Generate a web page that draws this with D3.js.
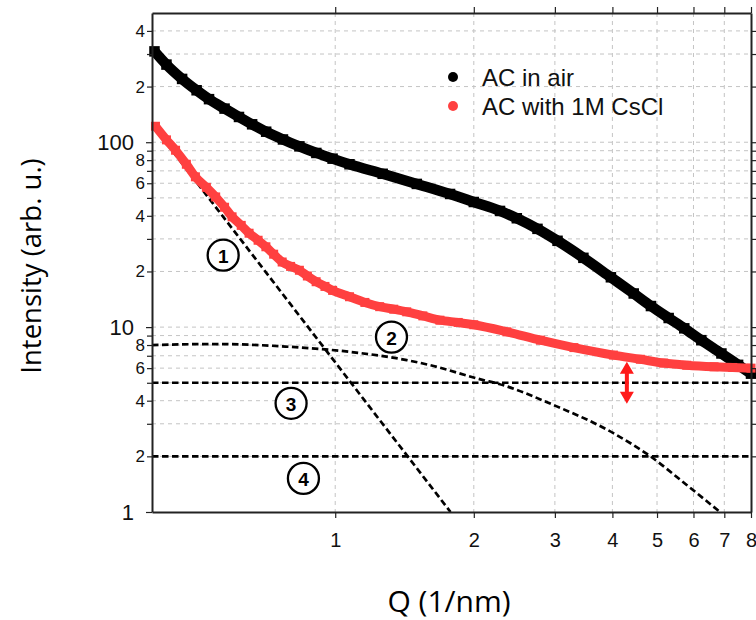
<!DOCTYPE html>
<html><head><meta charset="utf-8">
<script src="https://cdn.jsdelivr.net/npm/d3@7"></script>
<style>body{margin:0;background:#fff}svg{display:block}</style>
</head><body><svg id="c" width="756" height="620"></svg>
<script>
// ---- data ----
const airQ = [0.405,0.43,0.465,0.50,0.532,0.575,0.618,0.66,0.708,0.77,0.836,0.91,0.987,1.074,1.268,1.504,1.776,2.0,2.28,2.48,2.75,3.04,3.46,3.97,4.45,4.85,5.3,5.73,6.24,6.9,7.5,8.0];
const airI = [310,263,220,191,171,152,137,125,114,103.5,95,87.5,81.5,76,67.5,59.5,52.5,47.5,42.5,38.8,34,29.3,23.7,18.6,15.2,13.0,11.2,9.85,8.5,7.2,6.25,5.6];
const csclQ = [0.407,0.43,0.45,0.475,0.497,0.525,0.55,0.575,0.597,0.625,0.65,0.68,0.707,0.735,0.767,0.80,0.836,0.87,0.909,0.95,0.987,1.074,1.16,1.249,1.34,1.43,1.55,1.688,1.85,2.0,2.36,2.79,3.3,4.02,4.6,5.17,5.8,6.65,7.3,8.0];
const csclI = [122,103,90.5,76,65,57,50.6,44.5,39.5,35.5,32.2,29.5,27.2,24.8,22.5,21.3,20.3,18.9,17.6,16.6,15.8,14.6,13.6,12.9,12.5,12.1,11.5,10.9,10.6,10.3,9.43,8.5,7.75,7.06,6.7,6.39,6.22,6.10,6.05,6.0];
const model1Q = [0.405,1.78];
const model1I = [120,1];
const model2Q = [0.4,0.55,0.78,1.075,1.43,1.606,2.096,2.245,2.98,4.02,4.85,5.8,6.85];
const model2I = [8.0,8.1,7.85,7.35,6.63,6.23,5.17,4.96,3.79,2.67,1.99,1.4,1.0];
const model3Q = [0.4,8]; const model3I = [5,5];
const model4Q = [0.4,8]; const model4I = [2,2];
const seriesNames = ["AC in air","AC with 1M CsCl"];
const seriesColors = ["#000000","#ff4040"];
const xTicks = [1,2,3,4,5,6,7,8];
const xGrid = [1,2,3,4,5,6,7];
const yTicks = [2,3,4,5,6,7,8,9,10,20,30,40,50,60,70,80,90,100,200,300,400];
const yMajor = [1,10,100];
const yLabelled = [2,4,6,8,20,40,60,80,200,400];
const labels = [{t:"1",q:0.571,i:24.5},{t:"2",q:1.325,i:8.83},{t:"3",q:0.802,i:3.87},{t:"4",q:0.853,i:1.52}];
const arrowQ = 4.3, arrowI = [6.5,3.85];

// ---- layout ----
const svg = d3.select("#c");
const L=152, R=751, T=13, B=512;
const x = d3.scaleLog().domain([0.4,8]).range([L,R]);
const y = d3.scaleLog().domain([1,500]).range([B,T]);
const font = "'Liberation Sans', Arial, Helvetica, sans-serif";
const tfont = "'Open Sans', 'Noto Sans', sans-serif";

// grid
const g = svg.append("g");
g.selectAll("line.hg").data(yTicks).join("line")
  .attr("x1",L).attr("x2",R).attr("y1",d=>y(d)).attr("y2",d=>y(d))
  .attr("stroke","#c4c4c4").attr("stroke-width",1).attr("stroke-dasharray","4,4");
g.selectAll("line.vg").data(xGrid).join("line")
  .attr("y1",T).attr("y2",B).attr("x1",d=>x(d)).attr("x2",d=>x(d))
  .attr("stroke","#c4c4c4").attr("stroke-width",1).attr("stroke-dasharray","4,4");

// model curves
const mline = d3.line().x(d=>x(d[0])).y(d=>y(d[1])).curve(d3.curveMonotoneX);
const models = [[model1Q,model1I],[model2Q,model2I],[model3Q,model3I],[model4Q,model4I]];
models.forEach(([q,i])=>{
  svg.append("path").datum(q.map((v,k)=>[v,i[k]]))
    .attr("d",mline).attr("fill","none").attr("stroke","#000")
    .attr("stroke-width",2.7).attr("stroke-dasharray","6.5,3.5");
});

// data series
const series = [[airQ,airI],[csclQ,csclI]];
const widths = [10.5,9];
const sline = d3.line().x(d=>x(d[0])).y(d=>y(d[1])).curve(d3.curveMonotoneX);
series.forEach(([q,i],k)=>{
  const pts = q.map((v,j)=>[v,i[j]]);
  const w = widths[k];
  svg.append("path").datum(pts).attr("d",sline).attr("fill","none")
    .attr("stroke",seriesColors[k]).attr("stroke-width",w).attr("stroke-linejoin","round");
  svg.append("g").selectAll("rect").data(pts).join("rect")
    .attr("x",d=>x(d[0])-w/2).attr("y",d=>y(d[1])-w/2).attr("width",w).attr("height",w)
    .attr("fill",seriesColors[k]);
});

// axes
function style(sel){
  sel.select(".domain").attr("stroke","#222").attr("stroke-width",2);
  sel.selectAll(".tick line").attr("stroke","#222").attr("stroke-width",1.2);
}
const axB = svg.append("g").attr("transform",`translate(0,${B})`)
  .call(d3.axisBottom(x).tickValues(xTicks).tickFormat(d3.format("d")).tickSize(6).tickSizeOuter(0));
style(axB);
axB.selectAll("text").attr("font-family",font).attr("font-size",20).attr("fill","#111").attr("y",21);
const axT = svg.append("g").attr("transform",`translate(0,${T})`)
  .call(d3.axisTop(x).tickValues(xTicks).tickFormat("").tickSize(6).tickSizeOuter(0));
style(axT);
const axL = svg.append("g").attr("transform",`translate(${L},0)`)
  .call(d3.axisLeft(y).tickValues(yTicks.concat([1])).tickSize(5).tickSizeOuter(0)
    .tickFormat(d=> yMajor.includes(d) ? String(d) : (yLabelled.includes(d) ? String(Math.round(d/Math.pow(10,Math.floor(Math.log10(d)+1e-9)))) : "")));
style(axL);
axL.selectAll(".tick text").each(function(d){
  const major = yMajor.includes(d);
  d3.select(this).attr("font-family",font).attr("fill","#111")
    .attr("font-size", major?22:17).attr("x", major?-18:-7);
});
axL.selectAll(".tick line").attr("x2",d=>yMajor.includes(d)?-6:-5);
const axR = svg.append("g").attr("transform",`translate(${R},0)`)
  .call(d3.axisRight(y).tickValues(yTicks).tickFormat("").tickSize(5).tickSizeOuter(0));
style(axR);

// circled labels
labels.forEach(l=>{
  const cx=x(l.q), cy=y(l.i);
  svg.append("circle").attr("cx",cx).attr("cy",cy).attr("r",15.5)
    .attr("fill","#fff").attr("stroke","#000").attr("stroke-width",2.3);
  svg.append("text").attr("x",cx).attr("y",cy+1).attr("text-anchor","middle")
    .attr("dominant-baseline","central").attr("font-family",font)
    .attr("font-weight","bold").attr("font-size",19).text(l.t);
});

// red double arrow
{
  const ax=x(arrowQ), y1=y(arrowI[0]), y2=y(arrowI[1]);
  const hw=7, hh=12, sw=2;
  const p = `M${ax},${y1} L${ax+hw},${y1+hh} L${ax+sw},${y1+hh} L${ax+sw},${y2-hh} L${ax+hw},${y2-hh} L${ax},${y2} L${ax-hw},${y2-hh} L${ax-sw},${y2-hh} L${ax-sw},${y1+hh} L${ax-hw},${y1+hh} Z`;
  svg.append("path").attr("d",p).attr("fill","#ff1a1a");
}

// legend
const lg = svg.append("g");
seriesNames.forEach((n,k)=>{
  const ly = 77 + k*29;
  lg.append("circle").attr("cx",453).attr("cy",ly).attr("r",5).attr("fill",seriesColors[k]);
  lg.append("text").attr("x",482).attr("y",ly).attr("dominant-baseline","central")
    .attr("font-family",font).attr("font-size",24).attr("fill","#111").text(n);
});

// axis titles
svg.append("text").attr("x",449).attr("y",600).attr("text-anchor","middle")
  .attr("dominant-baseline","central").attr("font-family",tfont)
  .attr("font-size",30).attr("fill","#000").text("Q (1/nm)");
svg.append("text").attr("transform","translate(30,266) rotate(-90)").attr("text-anchor","middle")
  .attr("dominant-baseline","central").attr("font-family",tfont)
  .attr("font-size",27.5).attr("fill","#000").text("Intensity (arb. u.)");
</script>
</body></html>
